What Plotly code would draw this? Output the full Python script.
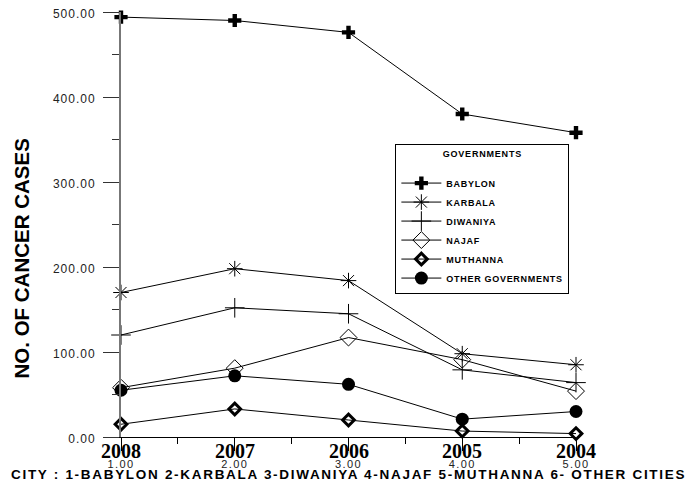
import plotly.graph_objects as go

# x positions (city index) and the year printed above each one
x_pos = [1, 2, 3, 4, 5]
years = ["2008", "2007", "2006", "2005", "2004"]
x_ticks = ["1.00", "2.00", "3.00", "4.00", "5.00"]
y_ticks = [0, 100, 200, 300, 400, 500]

babylon = [494, 490, 476, 380, 358]
karbala = [170, 198, 184, 98, 85]
diwaniya = [120, 152, 145, 79, 64]
najaf = [58, 81, 117, 91, 54]
muthanna = [15, 33, 20, 7, 4]
other = [55, 72, 62, 21, 30]

series = [
    ("BABYLON", babylon, dict(symbol="cross", size=11, color="black")),
    ("KARBALA", karbala, dict(symbol="asterisk-open", size=13, color="black", line=dict(width=1, color="black"))),
    ("DIWANIYA", diwaniya, dict(symbol="cross-thin-open", size=14, color="black", line=dict(width=1, color="black"))),
    ("NAJAF", najaf, dict(symbol="diamond-open", size=13, color="black", line=dict(width=1, color="black"))),
    ("MUTHANNA", muthanna, dict(symbol="diamond-open", size=9, color="black", line=dict(width=3, color="black"))),
    ("OTHER GOVERNMENTS", other, dict(symbol="circle", size=13, color="black")),
]


def spaced(txt, ls):
    return f'<span style="letter-spacing:{ls}px">{txt}</span>'


fig = go.Figure()
for name, vals, marker in series:
    fig.add_trace(go.Scatter(
        x=x_pos, y=vals, name=spaced(f"<b>{name}</b>", 0.7), mode="lines+markers",
        line=dict(color="black", width=1),
        marker=marker, cliponaxis=False,
    ))

# big year labels sitting just under the x axis
for xv, yr in zip(x_pos, years):
    fig.add_annotation(
        x=xv, y=0, xref="x", yref="paper", yanchor="top",
        text=f"<b>{yr}</b>", showarrow=False, yshift=-1,
        font=dict(family="Liberation Serif", size=20, color="black"),
    )

# y title sits a bit below the middle of the axis in the original
fig.add_annotation(
    x=0, y=0.42, xref="paper", yref="paper", xanchor="center", yanchor="middle",
    xshift=-100, textangle=-90, showarrow=False,
    text="<b>NO. OF CANCER CASES</b>", font=dict(size=20.5, color="black"),
)

# x title
fig.add_annotation(
    x=0.5, y=0, xref="paper", yref="paper", xanchor="center", yanchor="middle",
    yshift=-37, showarrow=False,
    text=spaced("<b>CITY : 1-BABYLON 2-KARBALA 3-DIWANIYA 4-NAJAF 5-MUTHANNA 6- OTHER CITIES</b>", 1.7),
    font=dict(size=13.5, color="black"),
)

fig.update_layout(
    width=697, height=496,
    margin=dict(l=113, r=129, t=4, b=67),
    plot_bgcolor="white", paper_bgcolor="white",
    font=dict(family="Liberation Sans", color="black"),
    showlegend=True,
    legend=dict(
        x=0.603, y=0.689, xanchor="left", yanchor="top",
        bordercolor="black", borderwidth=1, bgcolor="white",
        font=dict(size=9, family="Liberation Sans"),
        title=dict(text=spaced("<b>GOVERNMENTS</b>", 0.8) + "<br> ", side="top center", font=dict(size=9)),
        itemwidth=40,
    ),
    xaxis=dict(
        range=[1, 5], tickvals=x_pos, ticktext=[spaced(t, 1.4) for t in x_ticks],
        ticks="outside", ticklen=13, tickcolor="black", ticklabelstandoff=4,
        showline=True, linecolor="black", linewidth=1,
        showgrid=False, zeroline=False, automargin=False,
        tickfont=dict(size=11, color="#222"), ticklabeloverflow="allow",
        minor=dict(ticks="outside", ticklen=6, tickcolor="black", dtick=0.5, tick0=1.5),
    ),
    yaxis=dict(
        range=[0, 500], tickvals=y_ticks, ticktext=[spaced(f"{v:.2f}", 1) for v in y_ticks],
        ticks="outside", ticklen=16, tickcolor="#333", ticklabelstandoff=5,
        ticklabelshift=2,
        showline=True, linecolor="#777", linewidth=2,
        showgrid=False, zeroline=False, automargin=False,
        tickfont=dict(size=12, color="#222"), ticklabeloverflow="allow",
        minor=dict(ticks="outside", ticklen=7, tickcolor="#333", dtick=100, tick0=50),
    ),
)

fig.write_html("out.html")
